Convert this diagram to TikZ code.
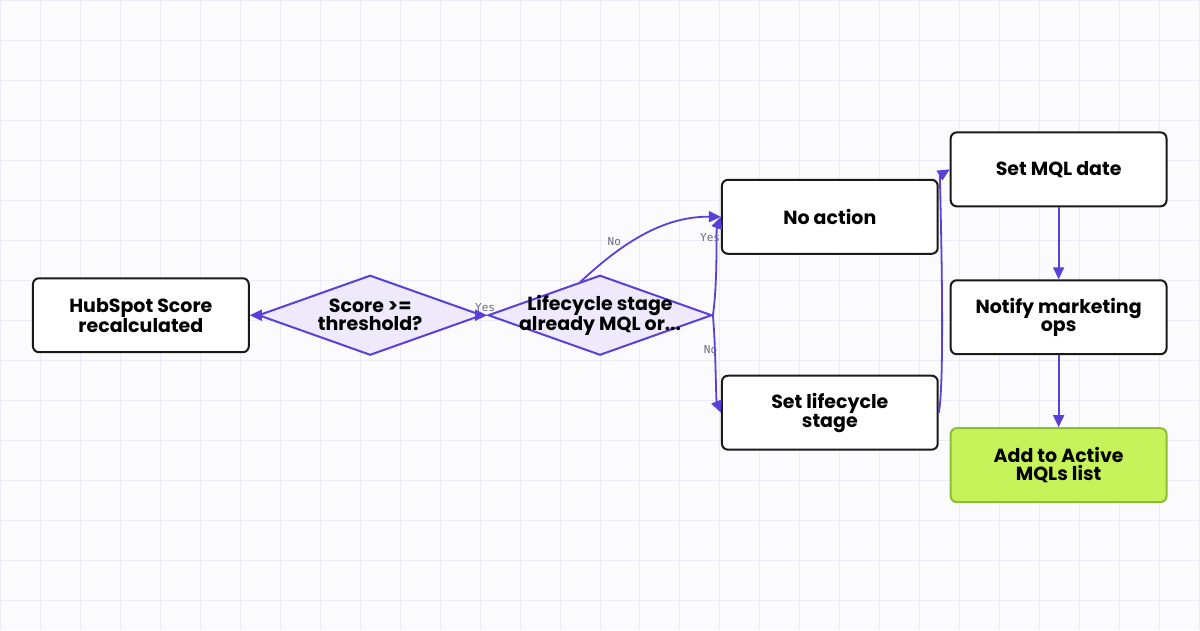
\documentclass[tikz,border=0pt]{standalone}
\usepackage{fontspec}
\setmainfont{Poppins}
\setmonofont{DejaVu Sans Mono}
\usetikzlibrary{shapes.geometric,arrows.meta,positioning}
\definecolor{edgec}{HTML}{5B3FD9}
\definecolor{gridc}{HTML}{ECEBF7}
\definecolor{bgc}{HTML}{FBFBFE}
\definecolor{decc}{HTML}{EEEAFB}
\definecolor{okc}{HTML}{C6F25A}
\definecolor{okd}{HTML}{8DBE33}
\definecolor{labc}{HTML}{6B6B7B}
\tikzset{
  box/.style={rectangle, rounded corners=6pt, minimum width=216pt, minimum height=74pt,
    draw=black!90, line width=2pt, fill=white, align=center, font=\fontsize{19}{18}\selectfont\bfseries},
  dec/.style={diamond, minimum width=224pt, minimum height=80pt, inner sep=0pt,
    draw=edgec, line width=2pt, fill=decc},
  dtext/.style={align=center, font=\fontsize{19}{18}\selectfont\bfseries},
  flow/.style={draw=edgec, line width=1.8pt, -{Triangle[length=12pt,width=11pt]}},
  lab/.style={font=\ttfamily\fontsize{11}{11}\selectfont, text=labc, inner sep=1pt}
}
\begin{document}
\begin{tikzpicture}[x=1pt, y=-1pt]
    \fill[bgc] (0,0) rectangle (1200,630);
    \draw[gridc, line width=1pt] (0,0) grid[step=40pt] (1200,630);
    \useasboundingbox (0,0) rectangle (1200,630);

    \node (hub)     [box] at (140.5,315)  {HubSpot Score\\recalculated};
    \node (score)   [dec] at (370,315)    {};
    \node (stage)   [dec] at (600,315)    {};
    \node (noact)   [box] at (830,216.5)  {No action};
    \node (setlc)   [box] at (830,412.5)  {Set lifecycle\\stage};
    \node (mqldate) [box] at (1059,169)   {Set MQL date};
    \node (notify)  [box, below=72pt of mqldate] {Notify marketing\\ops};
    \node (addlist) [box, fill=okc, draw=okd, below=72pt of notify] {Add to Active\\MQLs list};

    \node [dtext] at (score)  {Score >=\\threshold?};
    \node [dtext] at (stage)  {Lifecycle stage\\already MQL or...};

    \draw[flow] (score.west) -- (hub.east);
    \draw[flow] (score.east) -- node[lab, above=2pt] {Yes} (stage.west);
    \draw[flow] (580,282) .. controls (630,235) and (670,216) .. node[lab, pos=0.3, above left] {No} (noact.west);
    \draw[flow] (stage.east) .. controls (718,280) and (716,230) .. node[lab, pos=0.7, left=-4pt] {Yes} (noact.west);
    \draw[flow] (stage.east) .. controls (716,350) and (716,400) .. node[lab, pos=0.3, left=-4pt] {No} (setlc.west);
    \draw[flow] (setlc.east) .. controls (946,380) and (940,175) .. (mqldate.west);
    \draw[flow] (mqldate) -- (notify);
    \draw[flow] (notify) -- (addlist);
\end{tikzpicture}
\end{document}
